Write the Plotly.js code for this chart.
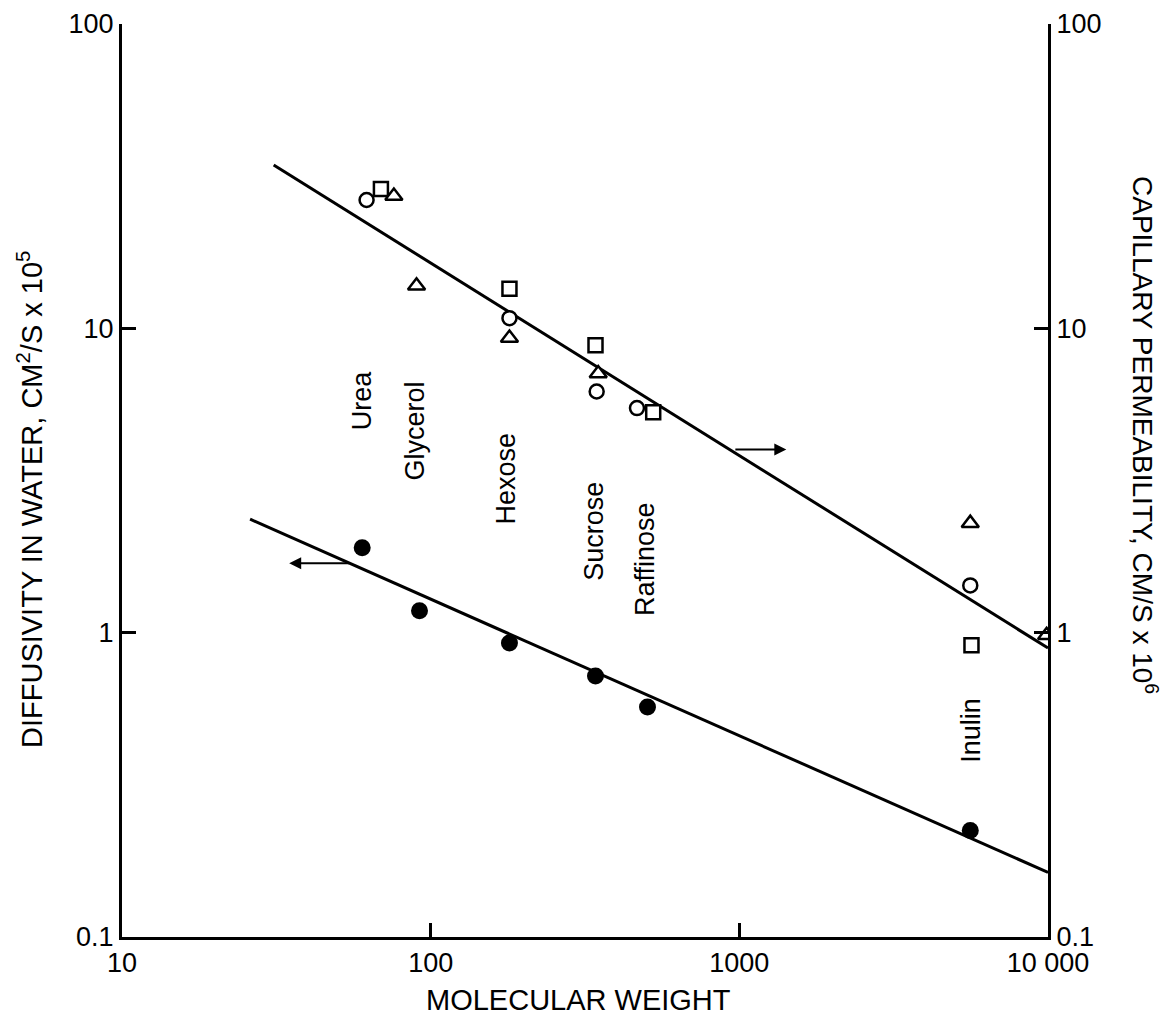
<!DOCTYPE html>
<html><head><meta charset="utf-8">
<script src="https://cdn.plot.ly/plotly-3.0.1.min.js"></script>
<style>html,body{margin:0;padding:0;background:#fff}</style>
</head><body><div id="chart" style="width:1163px;height:1029px"></div>
<script>
// Diffusivity in water (left axis, filled circles)
const diffMW = [60, 92, 180, 342, 504, 5600];
const diffVal = [1.90, 1.18, 0.925, 0.72, 0.57, 0.224];
const fitDiffMW = [26, 10000];
const fitDiffVal = [2.36, 0.163];
// Capillary permeability (right axis, open symbols)
const fitPermMW = [31, 10000];
const fitPermVal = [34.4, 0.89];
const permCircleMW = [62, 180, 345, 466, 5600];
const permCircleVal = [26.4, 10.8, 6.2, 5.47, 1.43];
const permSquareMW = [69, 180, 342, 526, 5650];
const permSquareVal = [28.7, 13.5, 8.8, 5.3, 0.91];
const permTriangleMW = [76, 90, 180, 349, 5600, 9900];
const permTriangleVal = [27.2, 13.8, 9.3, 7.1, 2.29, 0.98];
// Compound labels
const compoundNames = ['Urea', 'Glycerol', 'Hexose', 'Sucrose', 'Raffinose', 'Inulin'];
const labelMW = [60, 88.7, 176, 338, 492, 5620];
const labelVal = [5.81, 4.60, 3.22, 2.16, 1.75, 0.479];
// Axis arrows
const arrowTailMW = [960, 55];
const arrowHeadMW = [1420, 34.8];
const arrowVal = [4.0, 1.69];
const arrowAxis = ['y2', 'y'];
// Ticks
const xTickVals = [10, 100, 1000, 10000];
const xTickText = ['10', '100', '1000', '10 000'];
const yTickVals = [0.1, 1, 10, 100];
const yTickText = ['0.1', '1', '10', '100'];

const FONT = 'Liberation Sans, Arial, sans-serif';
const black = '#000';

const traces = [
  {x: fitPermMW, y: fitPermVal, yaxis: 'y2', mode: 'lines', line: {color: black, width: 3}, hoverinfo: 'skip'},
  {x: fitDiffMW, y: fitDiffVal, mode: 'lines', line: {color: black, width: 3}, hoverinfo: 'skip'},
  {x: diffMW, y: diffVal, mode: 'markers', marker: {symbol: 'circle', size: 17, color: black}},
  {x: permCircleMW, y: permCircleVal, yaxis: 'y2', mode: 'markers',
   marker: {symbol: 'circle', size: 14, color: '#fff', line: {color: black, width: 2.5}}},
  {x: permSquareMW, y: permSquareVal, yaxis: 'y2', mode: 'markers',
   marker: {symbol: 'square', size: 14, color: '#fff', line: {color: black, width: 2.5}}},
  {x: permTriangleMW, y: permTriangleVal, yaxis: 'y2', mode: 'markers', cliponaxis: true,
   marker: {symbol: 'triangle-up', size: 15, color: '#fff', line: {color: black, width: 2.5}}}
];

const annotations = [];
compoundNames.forEach((n, i) => {
  annotations.push({xref: 'x', yref: 'y', x: Math.log10(labelMW[i]), y: Math.log10(labelVal[i]),
    text: n, showarrow: false, textangle: -90, xanchor: 'center', yanchor: 'middle',
    font: {family: FONT, size: 27, color: black}});
});
arrowHeadMW.forEach((h, i) => {
  annotations.push({xref: 'x', yref: arrowAxis[i], axref: 'x', ayref: arrowAxis[i],
    x: Math.log10(h), y: Math.log10(arrowVal[i]), ax: Math.log10(arrowTailMW[i]), ay: Math.log10(arrowVal[i]),
    text: '', showarrow: true, arrowhead: 2, arrowsize: 1.2, arrowwidth: 2, arrowcolor: black});
});
annotations.push({xref: 'paper', yref: 'paper', x: 0.4935, y: -0.069, text: 'MOLECULAR WEIGHT',
  showarrow: false, xanchor: 'center', yanchor: 'middle', font: {family: FONT, size: 29, color: black}});
annotations.push({xref: 'paper', yref: 'paper', x: -0.0994, y: 0.4797,
  text: 'DIFFUSIVITY IN WATER, CM<sup>2</sup>/S x 10<sup>5</sup>', textangle: -90,
  showarrow: false, xanchor: 'center', yanchor: 'middle', font: {family: FONT, size: 29, color: black}});
annotations.push({xref: 'paper', yref: 'paper', x: 1.1048, y: 0.5498,
  text: 'CAPILLARY PERMEABILITY, CM/S x 10<sup>6</sup>', textangle: 90,
  showarrow: false, xanchor: 'center', yanchor: 'middle', font: {family: FONT, size: 28, color: black}});

const yCommon = {type: 'log', range: [-1, 2], tickmode: 'array', tickvals: yTickVals, ticktext: yTickText,
  ticks: 'inside', ticklen: 14, tickwidth: 2.5, tickcolor: black, showgrid: false, zeroline: false,
  showline: true, linewidth: 3, linecolor: black, tickfont: {family: FONT, size: 27, color: black}};

const layout = {
  width: 1163, height: 1029,
  margin: {l: 122, r: 115, t: 24, b: 92},
  paper_bgcolor: '#fff', plot_bgcolor: '#fff',
  showlegend: false,
  xaxis: {type: 'log', range: [1, 4], tickmode: 'array', tickvals: xTickVals, ticktext: xTickText,
    ticks: 'inside', ticklen: 14, tickwidth: 2.5, tickcolor: black, showgrid: false, zeroline: false,
    showline: true, linewidth: 3, linecolor: black, tickfont: {family: FONT, size: 27, color: black}},
  yaxis: Object.assign({}, yCommon, {side: 'left'}),
  yaxis2: Object.assign({}, yCommon, {side: 'right', overlaying: 'y'}),
  annotations: annotations
};

Plotly.newPlot('chart', traces, layout, {displayModeBar: false, staticPlot: true});
</script>
</body></html>
